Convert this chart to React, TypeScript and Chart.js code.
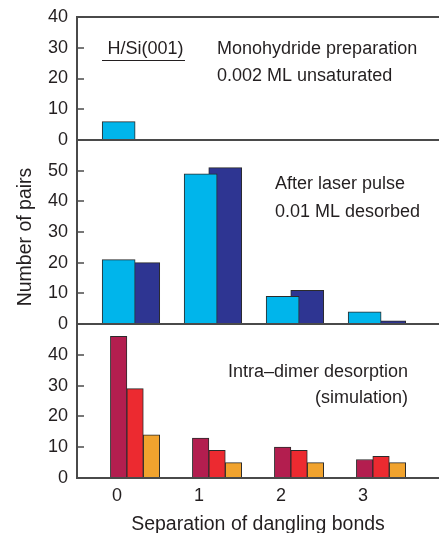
import React, { useEffect, useRef } from "react";
import { Chart, registerables } from "chart.js";

Chart.register(...registerables);

// ---------------- data ----------------
const separations = [0, 1, 2, 3];
const separationLabels = ["0", "1", "2", "3"];
const monohydride = [6, null, null, null];
const afterPulseA = [21, 49, 9, 4];
const afterPulseB = [20, 51, 11, 1];
const simulationA = [46, 13, 10, 6];
const simulationB = [29, 9, 9, 7];
const simulationC = [14, 5, 5, 5];
const topTicks = [0, 10, 20, 30, 40];
const midTicks = [0, 10, 20, 30, 40, 50];
const botTicks = [0, 10, 20, 30, 40];
const topMax = 40;
const midMax = 60;
const botMax = 50;

// ---------------- style ----------------
const FONT = "'Liberation Sans', Arial, Helvetica, sans-serif";
const TEXT = "#231f20";
const AXIS = "#4a4a4a";
const CYAN = "#00b5eb";
const DARK = "#2e3592";
const MAROON = "#b31e4f";
const RED = "#ec2a30";
const ORANGE = "#f1a32e";
const BAR_BORDER = "#2b2b2b";
const X_MIN = -0.488;
const X_MAX = 3.927;
const WIDE = 33;
const NARROW = 16.5;

const notes = [
  { text: "H/Si(001)", axis: "yTop", x: 0.348, y: 28, align: "center" },
  { text: "Monohydride preparation", axis: "yTop", x: 1.22, y: 28, align: "left" },
  { text: "0.002 ML unsaturated", axis: "yTop", x: 1.22, y: 19.2, align: "left" },
  { text: "After laser pulse", axis: "yMid", x: 1.927, y: 43.9, align: "left" },
  { text: "0.01 ML desorbed", axis: "yMid", x: 1.927, y: 35, align: "left" },
  { text: "Intra\u2013dimer desorption", axis: "yBot", x: 3.549, y: 32.8, align: "right" },
  { text: "(simulation)", axis: "yBot", x: 3.549, y: 24.2, align: "right" },
];

const textPlugin = {
  id: "panelText",
  afterDraw(chart: any) {
    const { ctx, scales, chartArea } = chart;
    const xs = scales.x;
    ctx.save();
    ctx.fillStyle = TEXT;
    ctx.strokeStyle = TEXT;
    ctx.font = `18px ${FONT}`;
    ctx.textBaseline = "alphabetic";
    for (const n of notes) {
      ctx.textAlign = n.align;
      ctx.fillText(n.text, xs.getPixelForValue(n.x), scales[n.axis].getPixelForValue(n.y));
    }
    // underline below H/Si(001)
    const uy = Math.round(scales.yTop.getPixelForValue(26)) + 0.5;
    ctx.lineWidth = 1.2;
    ctx.beginPath();
    ctx.moveTo(xs.getPixelForValue(-0.183), uy);
    ctx.lineTo(xs.getPixelForValue(0.829), uy);
    ctx.stroke();
    // y axis title
    ctx.translate(chartArea.left - 51.5, 237);
    ctx.rotate(-Math.PI / 2);
    ctx.font = `19.5px ${FONT}`;
    ctx.textAlign = "center";
    ctx.textBaseline = "middle";
    ctx.fillText("Number of pairs", 0, 0);
    ctx.restore();
  },
};

function series(values: (number | null)[], offset: number, axis: string, color: string, thickness: number) {
  return {
    data: separations.map((s, i) => ({ x: s + offset, y: values[i] })),
    yAxisID: axis,
    backgroundColor: color,
    borderColor: BAR_BORDER,
    borderWidth: 1,
    barThickness: thickness,
    grouped: false,
  };
}

function yAxis(max: number, ticks: number[], weight: number, lines: number[]) {
  return {
    type: "linear",
    position: "left",
    stack: "panels",
    stackWeight: weight,
    min: 0,
    max,
    offset: false,
    afterBuildTicks: (s: any) => {
      s.ticks = ticks.map((v) => ({ value: v }));
    },
    afterFit: (s: any) => {
      s.width = 77;
      s.paddingTop = 0;
      s.paddingBottom = 0;
    },
    ticks: { font: { family: FONT, size: 18 }, color: TEXT, padding: 16, autoSkip: false },
    grid: {
      drawOnChartArea: true,
      drawTicks: true,
      tickLength: -7,
      color: (c: any) => (c.tick && lines.includes(c.tick.value) ? AXIS : "rgba(0,0,0,0)"),
      lineWidth: 2,
      tickColor: AXIS,
      tickWidth: 1.5,
    },
    border: { display: true, color: AXIS, width: 2 },
  };
}

export default function App() {
  const ref = useRef<HTMLCanvasElement>(null);
  useEffect(() => {
    if (!ref.current) return;
    const chart = new Chart(ref.current, {
      type: "bar",
      data: {
        datasets: [
          series(monohydride, 0.02, "yTop", CYAN, WIDE),
          series(afterPulseA, 0.02, "yMid", CYAN, WIDE),
          series(afterPulseB, 0.32, "yMid", DARK, WIDE),
          series(simulationA, 0.02, "yBot", MAROON, NARROW),
          series(simulationB, 0.22, "yBot", RED, NARROW),
          series(simulationC, 0.42, "yBot", ORANGE, NARROW),
        ] as any,
      },
      options: {
        responsive: false,
        animation: false,
        layout: { padding: { top: 17, left: 0, right: 0, bottom: 0 } },
        plugins: { legend: { display: false }, tooltip: { enabled: false } },
        scales: {
          x: {
            type: "linear",
            min: X_MIN,
            max: X_MAX,
            offset: false,
            afterBuildTicks: (s: any) => {
              s.ticks = separations.map((v) => ({ value: v }));
            },
            afterFit: (s: any) => {
              s.height = 55;
              s.paddingLeft = 0;
              s.paddingRight = 0;
            },
            ticks: {
              font: { family: FONT, size: 18 },
              color: TEXT,
              padding: 7,
              maxRotation: 0,
              autoSkip: false,
              callback: (v: any) => {
                const i = separations.indexOf(Number(v));
                return i >= 0 ? separationLabels[i] : "";
              },
            },
            grid: { display: false, drawTicks: false, offset: false },
            border: { display: true, color: AXIS, width: 2 },
            title: {
              display: true,
              text: "Separation of dangling bonds",
              font: { family: FONT, size: 19.5 },
              color: TEXT,
              padding: { top: 0, bottom: -3 },
            },
          },
          yBot: yAxis(botMax, botTicks, 154, [0]),
          yMid: yAxis(midMax, midTicks, 184, [0]),
          yTop: yAxis(topMax, topTicks, 123, [0, topMax]),
        } as any,
      },
      plugins: [textPlugin],
    });
    return () => chart.destroy();
  }, []);
  return (
    <div style={{ position: "absolute", left: 0, top: 0, width: 439, height: 533, background: "#fff" }}>
      <canvas ref={ref} width={439} height={533} style={{ display: "block" }} />
    </div>
  );
}
